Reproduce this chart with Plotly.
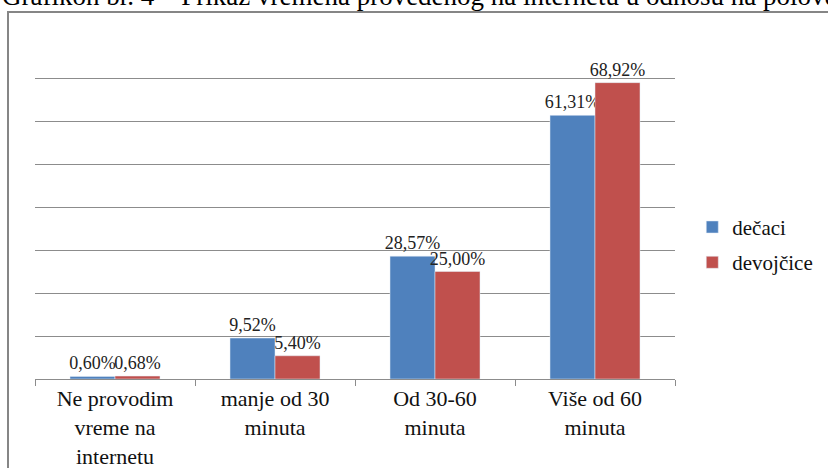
import plotly.graph_objects as go

categories = ['Ne provodim<br>vreme na<br>internetu', 'manje od 30<br>minuta',
              'Od 30-60<br>minuta', 'Više od 60<br>minuta']
decaci = [0.60, 9.52, 28.57, 61.31]
devojcice = [0.68, 5.40, 25.00, 68.92]
title_text = 'Grafikon br. 4 – Prikaz vremena provedenog na internetu u odnosu na polove'


def fmt(v):
    return f'{v:.2f}'.replace('.', ',') + '%'


serif = 'Times New Roman, Liberation Serif, serif'

fig = go.Figure()
fig.add_trace(go.Bar(
    x=categories, y=decaci, name='dečaci', legendgroup='a',
    marker=dict(color='#4F81BD'),
    text=[fmt(v) for v in decaci], textposition='outside',
    textfont=dict(family=serif, size=18, color='#222222'),
    constraintext='none', cliponaxis=False,
))
fig.add_trace(go.Bar(
    x=categories, y=devojcice, name='devojčice', legendgroup='b',
    marker=dict(color='#C0504D'),
    text=[fmt(v) for v in devojcice], textposition='outside',
    textfont=dict(family=serif, size=18, color='#222222'),
    constraintext='none', cliponaxis=False,
))

fig.update_layout(
    width=828, height=468,
    margin=dict(l=35, r=153, t=35, b=89, autoexpand=False),
    paper_bgcolor='white',
    plot_bgcolor='white',
    barmode='group',
    bargap=0.4375,
    bargroupgap=0,
    font=dict(family=serif, color='#111111'),
    showlegend=True,
    legend=dict(
        x=1.027, y=0.39, xanchor='left', yanchor='middle',
        font=dict(family=serif, size=21, color='#111111'),
        tracegroupgap=5, itemwidth=30,
    ),
    xaxis=dict(
        showline=True, linecolor='#8c8c8c', linewidth=1,
        ticks='outside', tickson='boundaries', ticklen=6, tickcolor='#8c8c8c',
        tickfont=dict(family=serif, size=22, color='#111111'),
        showgrid=False, automargin=False,
    ),
    yaxis=dict(
        range=[0, 80], dtick=10,
        showgrid=True, gridcolor='#8c8c8c', gridwidth=1,
        showticklabels=False, zeroline=False, showline=False, automargin=False,
    ),
    shapes=[dict(
        type='rect', xref='paper', yref='paper',
        x0=-27 / 640, x1=900 / 640, y0=-200 / 344, y1=(379 - 12) / 344,
        line=dict(color='#868686', width=2), layer='below',
    )],
    annotations=[dict(
        text=title_text, xref='paper', yref='paper',
        x=-35 / 640, y=(379 - 13) / 344, xanchor='left', yanchor='bottom',
        showarrow=False, font=dict(family=serif, size=27, color='#000000'),
    )],
)

fig.write_html('out.html', config={'displayModeBar': False},
               post_script="document.body.style.margin='0';")
